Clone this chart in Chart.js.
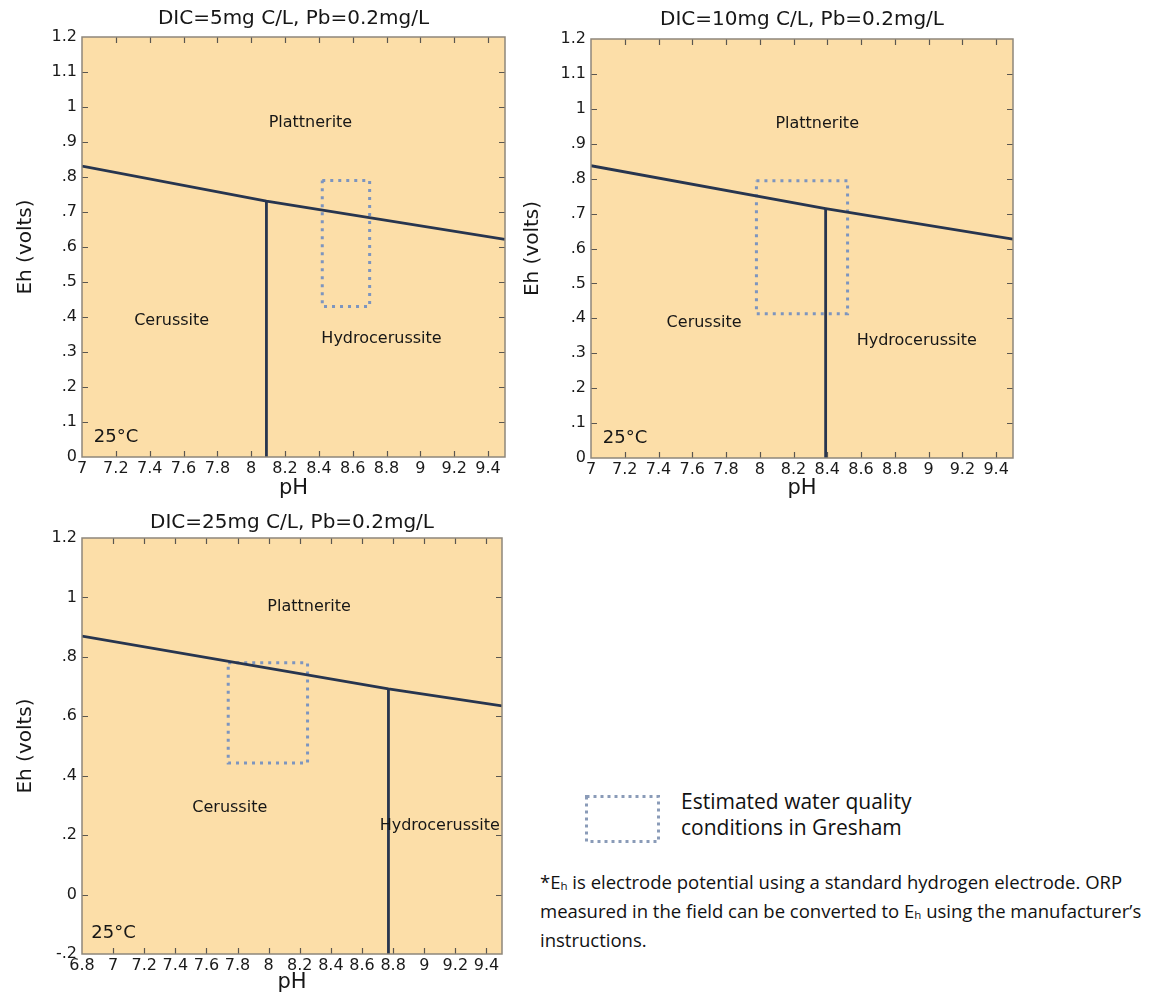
<!DOCTYPE html>
<html>
<head>
<meta charset="UTF-8">
<title>Eh-pH diagrams for lead</title>
<script src="https://cdn.jsdelivr.net/npm/chart.js"></script>
<style>
  body { margin: 0; background: #fff; width: 1156px; height: 996px; position: relative; overflow: hidden; }
  canvas { position: absolute; }
  .note { position: absolute; font-family: "Open Sans", Lato, sans-serif; color: #111; white-space: nowrap; }
  #legendText { left: 681px; top: 788px; font-size: 21px; line-height: 26px; }
  #foot { left: 540px; top: 869px; font-size: 18.5px; line-height: 25px; }
  #foot sub { font-size: 11.5px; vertical-align: -1px; }
</style>
</head>
<body>
<canvas id="c1" width="520" height="500" style="left:0;top:0"></canvas>
<canvas id="c2" width="520" height="500" style="left:520px;top:0"></canvas>
<canvas id="c3" width="520" height="496" style="left:0;top:500px"></canvas>
<canvas id="lg" width="90" height="60" style="left:578px;top:788px"></canvas>
<div class="note" id="legendText">Estimated water quality<br>conditions in Gresham</div>
<div class="note" id="foot">*E<sub>h</sub> is electrode potential using a standard hydrogen electrode. ORP<br>measured in the field can be converted to E<sub>h</sub> using the manufacturer’s<br>instructions.</div>

<script>
// ---- data (pH on x, Eh in volts on y) ----
// DIC = 5 mg C/L
var title1 = 'DIC=5mg C/L, Pb=0.2mg/L';
var boundPH1 = [7, 8.09, 9.5];
var boundEh1 = [0.831, 0.731, 0.622];
var splitPH1 = 8.09;
var boxPH1 = [8.42, 8.70];
var boxEh1 = [0.43, 0.79];
var xTicks1 = [7, 7.2, 7.4, 7.6, 7.8, 8, 8.2, 8.4, 8.6, 8.8, 9, 9.2, 9.4];
var xLabels1 = ['7', '7.2', '7.4', '7.6', '7.8', '8', '8.2', '8.4', '8.6', '8.8', '9', '9.2', '9.4'];
var yTicks1 = [0, 0.1, 0.2, 0.3, 0.4, 0.5, 0.6, 0.7, 0.8, 0.9, 1, 1.1, 1.2];
var yLabels1 = ['0', '.1', '.2', '.3', '.4', '.5', '.6', '.7', '.8', '.9', '1', '1.1', '1.2'];
var names1 = ['Plattnerite', 'Cerussite', 'Hydrocerussite'];
var namePH1 = [8.35, 7.53, 8.77];
var nameEh1 = [0.954, 0.389, 0.337];
var tempAt1 = [7.07, 0.057];

// DIC = 10 mg C/L
var title2 = 'DIC=10mg C/L, Pb=0.2mg/L';
var boundPH2 = [7, 8.39, 9.5];
var boundEh2 = [0.837, 0.714, 0.627];
var splitPH2 = 8.39;
var boxPH2 = [7.98, 8.52];
var boxEh2 = [0.413, 0.794];
var xTicks2 = xTicks1;
var xLabels2 = xLabels1;
var yTicks2 = yTicks1;
var yLabels2 = yLabels1;
var names2 = ['Plattnerite', 'Cerussite', 'Hydrocerussite'];
var namePH2 = [8.34, 7.67, 8.93];
var nameEh2 = [0.957, 0.387, 0.335];
var tempAt2 = [7.07, 0.057];

// DIC = 25 mg C/L
var title3 = 'DIC=25mg C/L, Pb=0.2mg/L';
var boundPH3 = [6.8, 8.77, 9.5];
var boundEh3 = [0.870, 0.692, 0.635];
var splitPH3 = 8.77;
var boxPH3 = [7.74, 8.25];
var boxEh3 = [0.443, 0.78];
var xTicks3 = [6.8, 7, 7.2, 7.4, 7.6, 7.8, 8, 8.2, 8.4, 8.6, 8.8, 9, 9.2, 9.4];
var xLabels3 = ['6.8', '7', '7.2', '7.4', '7.6', '7.8', '8', '8.2', '8.4', '8.6', '8.8', '9', '9.2', '9.4'];
var yTicks3 = [-0.2, 0, 0.2, 0.4, 0.6, 0.8, 1, 1.2];
var yLabels3 = ['-.2', '0', '.2', '.4', '.6', '.8', '1', '1.2'];
var names3 = ['Plattnerite', 'Cerussite', 'Hydrocerussite'];
var namePH3 = [8.26, 7.75, 9.10];
var nameEh3 = [0.968, 0.292, 0.231];
var tempAt3 = [6.86, -0.129];

var FONT = '"DejaVu Sans", sans-serif';
var fieldColor = '#fcdea8';
var lineColor = '#27354f';
var boxColor = '#7d95bf';

// peach field, frame and inward ticks, region names
var diagramPlugin = {
  id: 'diagram',
  beforeDatasetsDraw: function(chart) {
    var a = chart.chartArea, ctx = chart.ctx;
    ctx.save();
    ctx.fillStyle = fieldColor;
    ctx.fillRect(a.left, a.top, a.right - a.left, a.bottom - a.top);
    ctx.restore();
  },
  afterDatasetsDraw: function(chart) {
    var a = chart.chartArea, ctx = chart.ctx, o = chart.options.diagram;
    var sx = chart.scales.x, sy = chart.scales.y;
    ctx.save();
    // ticks pointing into the field
    ctx.strokeStyle = '#5a5650';
    ctx.lineWidth = 1.2;
    ctx.beginPath();
    sx.ticks.forEach(function(t) {
      var px = Math.round(sx.getPixelForValue(t.value)) + 0.5;
      if (px <= a.left + 1 || px >= a.right - 1) return;
      ctx.moveTo(px, a.top); ctx.lineTo(px, a.top + 6);
      ctx.moveTo(px, a.bottom); ctx.lineTo(px, a.bottom - 6);
    });
    sy.ticks.forEach(function(t) {
      var py = Math.round(sy.getPixelForValue(t.value)) + 0.5;
      if (py <= a.top + 1 || py >= a.bottom - 1) return;
      ctx.moveTo(a.left, py); ctx.lineTo(a.left + 6, py);
      ctx.moveTo(a.right, py); ctx.lineTo(a.right - 6, py);
    });
    ctx.stroke();
    // frame
    ctx.strokeStyle = '#8e877b';
    ctx.lineWidth = 1.5;
    ctx.strokeRect(a.left, a.top, a.right - a.left, a.bottom - a.top);
    // region names
    ctx.fillStyle = '#161616';
    ctx.font = '16px ' + FONT;
    ctx.textAlign = 'center';
    ctx.textBaseline = 'middle';
    o.names.forEach(function(n, i) {
      ctx.fillText(n, sx.getPixelForValue(o.namePH[i]), sy.getPixelForValue(o.nameEh[i]));
    });
    ctx.font = '18px ' + FONT;
    ctx.textAlign = 'left';
    ctx.fillText('25°C', sx.getPixelForValue(o.tempAt[0]), sy.getPixelForValue(o.tempAt[1]));
    ctx.restore();
  }
};

function toPoints(xs, ys) {
  return xs.map(function(x, i) { return { x: x, y: ys[i] }; });
}

function makeDiagram(id, d) {
  var boxPts = toPoints(
    [d.boxPH[0], d.boxPH[1], d.boxPH[1], d.boxPH[0], d.boxPH[0]],
    [d.boxEh[1], d.boxEh[1], d.boxEh[0], d.boxEh[0], d.boxEh[1]]);
  return new Chart(document.getElementById(id), {
    type: 'scatter',
    data: {
      datasets: [
        { data: toPoints(d.boundPH, d.boundEh), showLine: true, borderColor: lineColor, borderWidth: 2.8, pointRadius: 0 },
        { data: toPoints([d.split, d.split], [d.yTicks[0], d.boundEh[1]]), showLine: true, borderColor: lineColor, borderWidth: 2.8, pointRadius: 0 },
        { data: boxPts, showLine: true, borderColor: boxColor, borderWidth: 3, borderDash: [3, 5], pointRadius: 0 }
      ]
    },
    options: {
      responsive: false,
      animation: false,
      events: [],
      layout: { padding: { left: 0, right: d.padRight, top: 0, bottom: 0 } },
      diagram: { names: d.names, namePH: d.namePH, nameEh: d.nameEh, tempAt: d.tempAt },
      plugins: {
        legend: { display: false },
        tooltip: { enabled: false },
        title: {
          display: true, text: d.title, fullSize: false, color: '#161616',
          font: { family: FONT, size: 20, weight: 'normal', lineHeight: 1.2 },
          padding: { top: d.titleTop, bottom: d.titleBottom }
        }
      },
      scales: {
        x: {
          type: 'linear', min: d.boundPH[0], max: 9.5,
          afterBuildTicks: function(s) { s.ticks = d.xTicks.map(function(v) { return { value: v }; }); },
          afterFit: function(s) { s.height = d.xAxisH; },
          grid: { display: false, drawTicks: false },
          border: { display: false },
          ticks: {
            padding: 2, color: '#1a1a1a', maxRotation: 0, autoSkip: false,
            font: { family: FONT, size: 16 },
            callback: function(v, i) { return d.xLabels[i]; }
          },
          title: { display: true, text: 'pH', color: '#161616', font: { family: FONT, size: 21, lineHeight: 1 }, padding: { top: 0, bottom: d.phBottom } }
        },
        y: {
          type: 'linear', min: d.yTicks[0], max: 1.2,
          afterBuildTicks: function(s) { s.ticks = d.yTicks.map(function(v) { return { value: v }; }); },
          afterFit: function(s) { s.width = d.yAxisW; },
          grid: { display: false, drawTicks: false },
          border: { display: false },
          ticks: {
            padding: 5, color: '#1a1a1a', autoSkip: false,
            font: { family: FONT, size: 16 },
            callback: function(v, i) { return d.yLabels[i]; }
          },
          title: { display: true, text: 'Eh (volts)', color: '#161616', font: { family: FONT, size: 20, lineHeight: 1 }, padding: { top: d.ehLeft, bottom: 0 } }
        }
      }
    },
    plugins: [diagramPlugin]
  });
}

makeDiagram('c1', {
  title: title1, boundPH: boundPH1, boundEh: boundEh1, split: splitPH1, boxPH: boxPH1, boxEh: boxEh1,
  xTicks: xTicks1, xLabels: xLabels1, yTicks: yTicks1, yLabels: yLabels1,
  names: names1, namePH: namePH1, nameEh: nameEh1, tempAt: tempAt1,
  padRight: 15, titleTop: 7, titleBottom: 6, xAxisH: 43, yAxisW: 82, phBottom: 1, ehLeft: 16
});
makeDiagram('c2', {
  title: title2, boundPH: boundPH2, boundEh: boundEh2, split: splitPH2, boxPH: boxPH2, boxEh: boxEh2,
  xTicks: xTicks2, xLabels: xLabels2, yTicks: yTicks2, yLabels: yLabels2,
  names: names2, namePH: namePH2, nameEh: nameEh2, tempAt: tempAt2,
  padRight: 27, titleTop: 8, titleBottom: 7, xAxisH: 42, yAxisW: 71, phBottom: 1, ehLeft: 3
});
makeDiagram('c3', {
  title: title3, boundPH: boundPH3, boundEh: boundEh3, split: splitPH3, boxPH: boxPH3, boxEh: boxEh3,
  xTicks: xTicks3, xLabels: xLabels3, yTicks: yTicks3, yLabels: yLabels3,
  names: names3, namePH: namePH3, nameEh: nameEh3, tempAt: tempAt3,
  padRight: 18, titleTop: 11, titleBottom: 3, xAxisH: 42, yAxisW: 82, phBottom: 3, ehLeft: 16
});

// legend swatch: dotted box
var lg = document.getElementById('lg').getContext('2d');
lg.strokeStyle = '#8a9bb8';
lg.lineWidth = 3;
lg.setLineDash([3, 4]);
lg.strokeRect(8.5, 8.5, 72, 45);
</script>
</body>
</html>
